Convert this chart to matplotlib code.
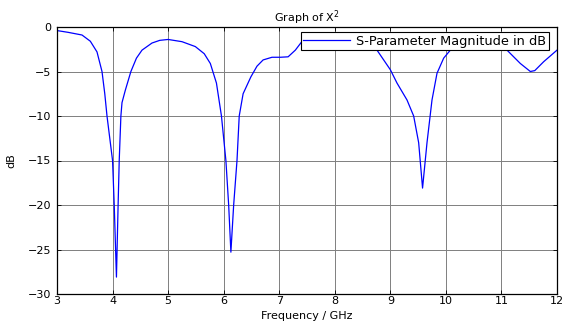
import matplotlib
matplotlib.use("Agg")
import matplotlib.pyplot as plt

freq = [3.0, 3.2, 3.45, 3.6, 3.72, 3.81, 3.86, 3.9, 3.95, 4.0, 4.03, 4.07, 4.1, 4.12,
        4.15, 4.17, 4.23, 4.33, 4.43, 4.53, 4.71, 4.85, 5.0, 5.25, 5.49, 5.65, 5.76,
        5.87, 5.96, 6.04, 6.09, 6.13, 6.18, 6.24, 6.28, 6.35, 6.49, 6.6, 6.71, 6.87,
        7.02, 7.16, 7.29, 7.4, 7.6, 7.9, 8.2, 8.5, 8.76, 9.0, 9.12, 9.3, 9.42, 9.51,
        9.58, 9.66, 9.75, 9.84, 9.96, 10.08, 10.3, 10.6, 10.9, 11.1, 11.34, 11.52,
        11.6, 11.76, 12.0]
db = [-0.4, -0.6, -0.9, -1.6, -2.8, -5.0, -7.5, -10.0, -12.5, -15.0, -20.0, -28.1,
      -20.0, -15.0, -10.0, -8.5, -7.1, -5.0, -3.5, -2.6, -1.8, -1.5, -1.4, -1.65,
      -2.2, -3.0, -4.1, -6.3, -10.0, -15.0, -20.0, -25.3, -20.0, -15.0, -10.0, -7.5,
      -5.6, -4.4, -3.7, -3.4, -3.4, -3.35, -2.6, -1.7, -1.0, -0.8, -1.0, -1.6, -2.6,
      -4.8, -6.3, -8.2, -10.0, -13.0, -18.1, -13.0, -8.2, -5.2, -3.5, -2.6, -1.6,
      -1.3, -1.8, -2.6, -4.1, -5.0, -4.9, -3.9, -2.6]
xticks = [3, 4, 5, 6, 7, 8, 9, 10, 11, 12]
yticks = [0, -5, -10, -15, -20, -25, -30]

plt.rcParams['font.family'] = ['DejaVu Sans']
fs = 8.0

fig = plt.figure(figsize=(5.62, 3.22), dpi=100)
ax = fig.add_axes([57/562, 28/322, 500/562, 267/322])
ax.plot(freq, db, color='#0000ff', lw=0.9, label='S-Parameter Magnitude in dB')
ax.set_xlim(3, 12)
ax.set_ylim(-30, 0)
ax.set_xticks(xticks)
ax.set_yticks(yticks)
ax.tick_params(direction='in', top=True, right=True, labelsize=fs, length=3, width=0.6)
ax.tick_params(axis='x', pad=1.5)
ax.tick_params(axis='y', pad=4)
ax.grid(True, color='#7f7f7f', lw=0.7)
for s in ax.spines.values():
    s.set_linewidth(0.9)
ax.set_xlabel('Frequency / GHz', fontsize=fs, va='center')
ax.xaxis.set_label_coords(0.5, -22/267)
ax.set_ylabel('dB', fontsize=fs, labelpad=8)
ax.set_title('Graph of X$^2$', fontsize=fs, pad=4)
leg = ax.legend(loc='upper right', bbox_to_anchor=(0.984, 0.981), borderaxespad=0,
                fontsize=9.3, handlelength=3.6, handletextpad=0.5, fancybox=False,
                framealpha=1, edgecolor='black', borderpad=0.2)
leg.get_frame().set_linewidth(0.8)
fig.savefig('out.png', dpi=100)
